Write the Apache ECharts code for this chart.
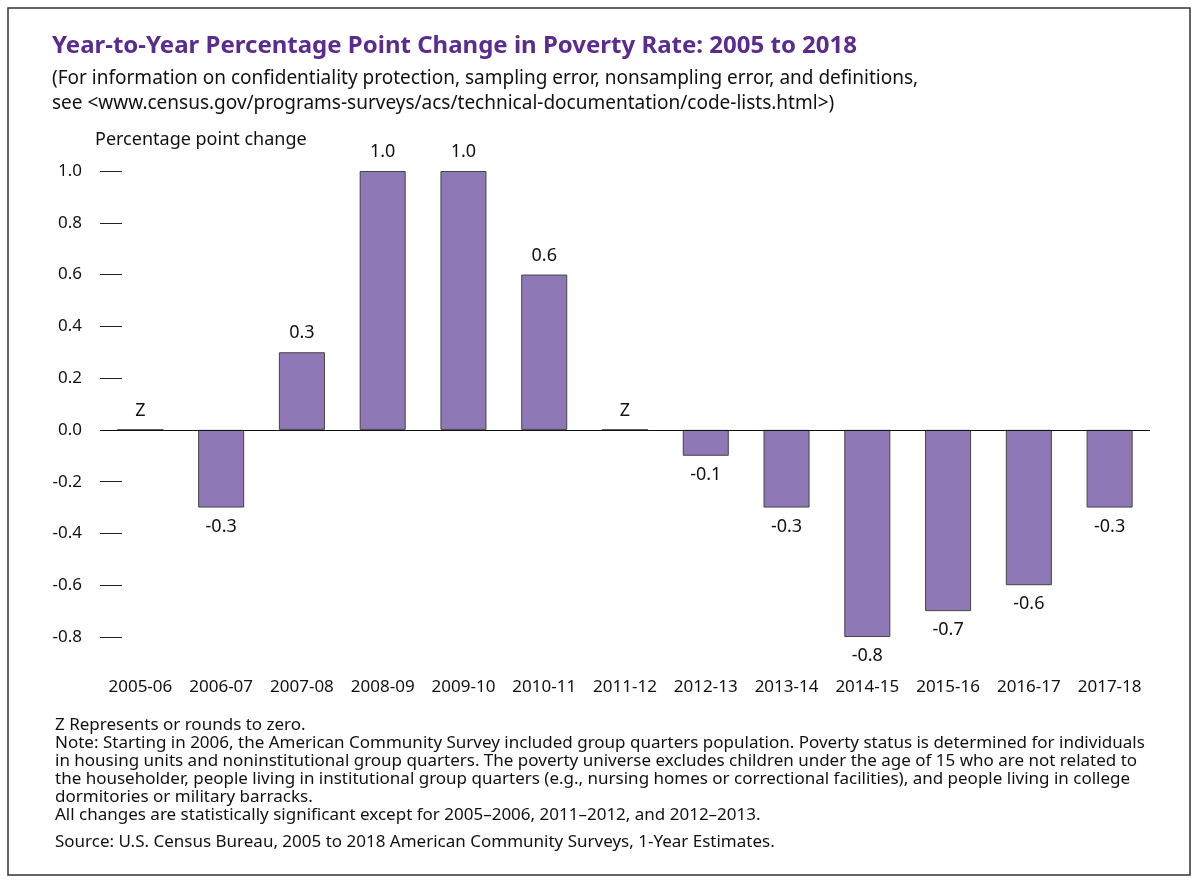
<!DOCTYPE html>
<html><head><meta charset="utf-8">
<script src="https://cdn.jsdelivr.net/npm/echarts@6/dist/echarts.min.js"></script>
<style>html,body{margin:0;background:#fff}#c{width:1200px;height:883px}</style>
</head><body><div id="c"></div>
<script>
var periods = ['2005-06','2006-07','2007-08','2008-09','2009-10','2010-11','2011-12','2012-13','2013-14','2014-15','2015-16','2016-17','2017-18'];
var changes = [0, -0.3, 0.3, 1.0, 1.0, 0.6, 0, -0.1, -0.3, -0.8, -0.7, -0.6, -0.3];
var yTicks = { min: -0.8, max: 1.0, step: 0.2 };
var notes = [
  'Z Represents or rounds to zero.',
  'Note: Starting in 2006, the American Community Survey included group quarters population. Poverty status is determined for individuals',
  'in housing units and noninstitutional group quarters. The poverty universe excludes children under the age of 15 who are not related to',
  'the householder, people living in institutional group quarters (e.g., nursing homes or correctional facilities), and people living in college',
  'dormitories or military barracks.',
  'All changes are statistically significant except for 2005\u20132006, 2011\u20132012, and 2012\u20132013.'
];
var source = 'Source: U.S. Census Bureau, 2005 to 2018 American Community Surveys, 1-Year Estimates.';

var font = '"Noto Sans", sans-serif';
var chart = echarts.init(document.getElementById('c'));
chart.setOption({
  backgroundColor: '#fff',
  textStyle: { fontFamily: font },
  graphic: [
    { type: 'rect', shape: { x: 8, y: 8, width: 1182, height: 867 }, style: { fill: 'none', stroke: '#333', lineWidth: 1.5 } },
    { type: 'text', left: 52, top: 34, style: { text: 'Year-to-Year Percentage Point Change in Poverty Rate: 2005 to 2018', font: 'bold 24px ' + font, fill: '#5b2c8f' } },
    { type: 'text', left: 52, top: 66, style: { text: '(For information on confidentiality protection, sampling error, nonsampling error, and definitions,\nsee <www.census.gov/programs-surveys/acs/technical-documentation/code-lists.html>)', font: '19px ' + font, fill: '#111', lineHeight: 25 } },
    { type: 'text', left: 95, top: 131, style: { text: 'Percentage point change', font: '18px ' + font, fill: '#111' } },
    { type: 'text', left: 55, top: 716, style: { text: notes.join('\n'), font: '17px ' + font, fill: '#111', lineHeight: 18 } },
    { type: 'text', left: 55, top: 834, style: { text: source, font: '17px ' + font, fill: '#111' } }
  ],
  grid: { left: 100, right: 50, top: 171, bottom: 246 },
  xAxis: {
    type: 'category', data: periods, position: 'bottom',
    axisLine: { show: false }, axisTick: { show: false },
    axisLabel: { color: '#111', fontSize: 17, margin: 42, interval: 0 }
  },
  yAxis: {
    type: 'value', min: yTicks.min, max: yTicks.max, interval: yTicks.step,
    splitLine: { show: false }, axisLine: { show: false },
    axisTick: { show: true, inside: true, length: 22, lineStyle: { color: '#222' } },
    axisLabel: { color: '#111', fontSize: 17, margin: 18, formatter: function (v) { return v.toFixed(1); } }
  },
  series: [{
    type: 'bar', barWidth: '57%',
    data: changes.map(function (v) {
      return { value: v, label: { position: v < 0 ? 'bottom' : 'top' } };
    }),
    itemStyle: { color: '#8e78b5', borderColor: '#444', borderWidth: 1 },
    label: {
      show: true, color: '#111', fontSize: 18, distance: 10,
      formatter: function (p) { return p.value === 0 ? 'Z' : p.value.toFixed(1); }
    },
    markLine: {
      silent: true, symbol: 'none', label: { show: false },
      lineStyle: { color: '#111', type: 'solid', width: 1.2 },
      data: [{ yAxis: 0 }]
    }
  }]
});
</script></body></html>
